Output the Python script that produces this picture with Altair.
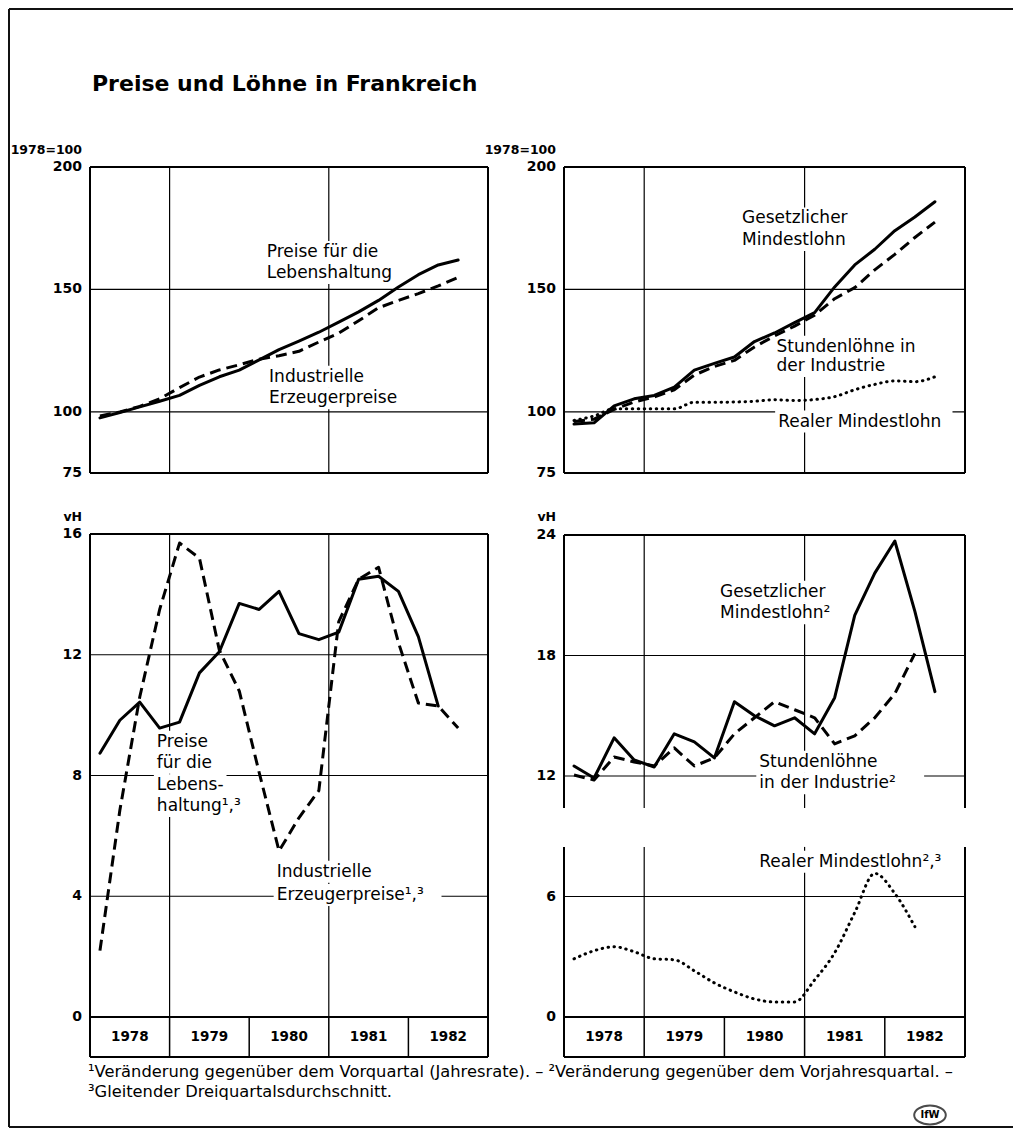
import altair as alt
import pandas as pd

# ---------------- data ----------------
quarters = ["1978 Q1", "1978 Q2", "1978 Q3", "1978 Q4",
            "1979 Q1", "1979 Q2", "1979 Q3", "1979 Q4",
            "1980 Q1", "1980 Q2", "1980 Q3", "1980 Q4",
            "1981 Q1", "1981 Q2", "1981 Q3", "1981 Q4",
            "1982 Q1", "1982 Q2", "1982 Q3"]
years = ["1978", "1979", "1980", "1981", "1982"]

# top left (1978=100)
lebenshaltung_idx = [97.5, 99.7, 102.0, 104.3, 106.7, 110.8, 114.3, 117.0, 121.2, 125.4,
                     128.9, 132.5, 136.6, 140.8, 145.5, 151.0, 156.0, 160.0, 162.0]
erzeuger_idx = [98.3, 99.9, 102.2, 105.3, 109.9, 114.2, 117.1, 119.2, 121.5, 122.9,
                124.7, 128.5, 132.1, 137.2, 142.5, 145.5, 148.3, 151.4, 154.9]
# top right (1978=100)
mindestlohn_idx = [95.0, 95.5, 102.4, 105.3, 106.7, 110.1, 117.0, 119.8, 122.4, 128.7,
                   132.2, 136.4, 140.5, 151.0, 160.0, 166.4, 174.0, 179.6, 185.8]
stundenlohn_idx = [96.0, 97.0, 101.0, 104.0, 106.0, 109.0, 115.0, 118.5, 121.0, 126.5,
                   131.0, 135.0, 139.5, 146.2, 150.7, 158.0, 164.3, 171.2, 177.5]
realer_idx = [96.5, 98.3, 101.2, 101.2, 101.2, 101.2, 103.9, 103.9, 104.0, 104.3,
              104.9, 104.6, 105.0, 106.2, 109.0, 111.2, 112.6, 112.3, 114.3]
# bottom left (vH)
lebenshaltung_vh = [8.74, 9.83, 10.43, 9.57, 9.77, 11.4, 12.1, 13.7, 13.5, 14.1,
                    12.7, 12.5, 12.75, 14.5, 14.6, 14.1, 12.6, 10.3, None]
erzeuger_vh = [2.2, 6.85, 10.6, 13.5, 15.7, 15.2, 12.15, 10.8, 8.1, 5.5,
               6.6, 7.5, 13.1, 14.5, 14.9, 12.4, 10.4, 10.3, 9.57]
# bottom right (vH)
mindestlohn_vh = [12.5, 11.9, 13.9, 12.8, 12.45, 14.1, 13.7, 12.9, 15.7, 15.0,
                  14.5, 14.9, 14.1, 15.9, 20.0, 22.1, 23.7, 20.2, 16.2]
stundenlohn_vh = [12.05, 11.8, 12.95, 12.7, 12.5, 13.4, 12.5, 12.9, 14.1, 14.9,
                  15.7, 15.3, 14.9, 13.6, 14.0, 14.9, 16.1, 18.1, None]
realer_vh = [2.9, 3.3, 3.5, 3.25, 2.9, 2.85, 2.3, 1.7, 1.25, 0.9,
             0.75, 0.75, 1.85, 3.2, 5.2, 7.15, 6.15, 4.5, None]

ticks_index = [75, 100, 150, 200]
grid_index = [100, 150]
ticks_bl = [0, 4, 8, 12, 16]
grid_bl = [4, 8, 12]
ticks_br = [0, 6, 12, 18, 24]
grid_br = [6, 12, 18]
grid_years = [1979, 1981]

FONT = "DejaVu Sans"
NOTE_SIZE = 17
W, H = 1006, 1120


def qt(label):
    y, q = label.split(" Q")
    return int(y) + (int(q) - 0.5) / 4


T = [qt(q) for q in quarters]
Y0, Y1 = 1978, 1983


def scales(xr, ydom, yr):
    X = alt.Scale(domain=[Y0, Y1], range=xr, nice=False, zero=False)
    Y = alt.Scale(domain=ydom, range=yr, nice=False, zero=False)
    return X, Y


def series_layer(vals, X, Y, style):
    df = pd.DataFrame({"t": T, "v": vals}).dropna()
    kw = dict(color="black", strokeWidth=3, strokeJoin="round", strokeCap="round")
    if style == "dash":
        kw.update(strokeDash=[11, 6], strokeCap="butt")
    elif style == "dot":
        kw.update(strokeDash=[0.5, 5.5], strokeCap="round", interpolate="monotone")
    return alt.Chart(df).mark_line(**kw).encode(
        x=alt.X("t:Q", scale=X, axis=None),
        y=alt.Y("v:Q", scale=Y, axis=None),
    )


def rule_layer(segs, X, Y, width):
    df = pd.DataFrame(segs, columns=["x", "x2", "y", "y2"])
    return alt.Chart(df).mark_rule(color="black", strokeWidth=width).encode(
        x=alt.X("x:Q", scale=X, axis=None), x2="x2:Q",
        y=alt.Y("y:Q", scale=Y, axis=None), y2="y2:Q",
    )


def text_layer(rows, X, Y, **kw):
    df = pd.DataFrame(rows, columns=["x", "y", "s"])
    base = dict(font=FONT, color="black")
    base.update(kw)
    return alt.Chart(df).mark_text(**base).encode(
        x=alt.X("x:Q", scale=X, axis=None),
        y=alt.Y("y:Q", scale=Y, axis=None),
        text="s:N",
    )


def label_backgrounds(notes, X, Y, xr, ydom, yr):
    """white boxes behind the annotation texts (they interrupt the grid)."""
    px_x = (xr[1] - xr[0]) / (Y1 - Y0)
    px_y = (yr[0] - yr[1]) / (ydom[1] - ydom[0])
    rows = []
    for x, y, s in notes:
        w = len(s) * 0.56 * NOTE_SIZE
        rows.append((x - 3 / px_x, x + (w + 3) / px_x,
                     y - 11 / px_y, y + 11 / px_y))
    df = pd.DataFrame(rows, columns=["x", "x2", "y", "y2"])
    return alt.Chart(df).mark_rect(color="white").encode(
        x=alt.X("x:Q", scale=X, axis=None), x2="x2:Q",
        y=alt.Y("y:Q", scale=Y, axis=None), y2="y2:Q",
    )


def panel(xr, ydom, yr, lines, yticks, hgrid, unit, unit_v, notes,
          year_box=False, gap=None):
    X, Y = scales(xr, ydom, yr)
    lo, hi = ydom
    base = 0 if year_box else lo
    grid, border = [], []
    for v in hgrid:
        grid.append((Y0, Y1, v, v))

    def vert(x, a, b, target):
        if gap:
            target.append((x, x, a, gap[0]))
            target.append((x, x, gap[1], b))
        else:
            target.append((x, x, a, b))
    for g in grid_years:
        vert(g, base, hi, grid)
    vert(Y0, lo, hi, border)
    vert(Y1, lo, hi, border)
    border.append((Y0, Y1, hi, hi))
    border.append((Y0, Y1, lo, lo))
    layers = [rule_layer(grid, X, Y, 1.2),
              label_backgrounds(notes, X, Y, xr, ydom, yr),
              rule_layer(border, X, Y, 2)]
    if year_box:
        layers.append(rule_layer([(Y0, Y1, 0, 0)], X, Y, 2))
        divs = [(int(y) + 1, int(y) + 1, lo, 0) for y in years[:-1]]
        layers.append(rule_layer(divs, X, Y, 1.5))
        layers.append(text_layer([(int(y) + 0.5, lo / 2, y) for y in years], X, Y,
                                 fontSize=13.5, fontWeight="bold", align="center",
                                 baseline="middle"))
    for vals, style in lines:
        layers.append(series_layer(vals, X, Y, style))
    layers.append(text_layer([(Y0, v, str(v)) for v in yticks], X, Y,
                             fontSize=14, fontWeight="bold", align="right",
                             baseline="middle", dx=-8))
    layers.append(text_layer([(Y0, unit_v, unit)], X, Y, fontSize=12.5,
                             fontWeight="bold", align="right", baseline="middle", dx=-8))
    layers.append(text_layer(notes, X, Y, fontSize=NOTE_SIZE, align="left",
                             baseline="middle"))
    return alt.layer(*layers)


tl = panel([82, 480], [75, 200], [465, 159],
           [(erzeuger_idx, "dash"), (lebenshaltung_idx, "solid")],
           ticks_index, grid_index, "1978=100", 206.9,
           [(1980.22, 165.3, "Preise für die"), (1980.22, 156.7, "Lebenshaltung"),
            (1980.25, 114.3, "Industrielle"), (1980.25, 105.5, "Erzeugerpreise")])

tr = panel([556, 957], [75, 200], [465, 159],
           [(realer_idx, "dot"), (stundenlohn_idx, "dash"), (mindestlohn_idx, "solid")],
           ticks_index, grid_index, "1978=100", 206.9,
           [(1980.22, 179.0, "Gesetzlicher"), (1980.22, 170.2, "Mindestlohn"),
            (1980.65, 126.6, "Stundenlöhne in"), (1980.65, 118.7, "der Industrie"),
            (1980.67, 96.0, "Realer Mindestlohn")])

bl = panel([82, 480], [-1.325, 16], [1049, 526],
           [(erzeuger_vh, "dash"), (lebenshaltung_vh, "solid")],
           ticks_bl, grid_bl, "vH", 16.56,
           [(1978.84, 9.12, "Preise"), (1978.84, 8.42, "für die"),
            (1978.84, 7.68, "Lebens-"), (1978.84, 6.99, "haltung¹,³"),
            (1980.345, 4.81, "Industrielle"), (1980.345, 4.04, "Erzeugerpreise¹,³")],
           year_box=True)

br = panel([556, 957], [-1.99, 24], [1049, 527],
           [(realer_vh, "dot"), (stundenlohn_vh, "dash"), (mindestlohn_vh, "solid")],
           ticks_br, grid_br, "vH", 24.9,
           [(1979.945, 21.18, "Gesetzlicher"), (1979.945, 20.1, "Mindestlohn²"),
            (1980.435, 12.71, "Stundenlöhne"), (1980.435, 11.64, "in der Industrie²"),
            (1980.435, 7.73, "Realer Mindestlohn²,³")],
           year_box=True, gap=(8.47, 10.41))

# ---------------- decorations (pixel positioned) ----------------
frame_top = alt.Chart(pd.DataFrame({"k": [0]})).mark_rule(
    color="#111111", strokeWidth=2, strokeCap="butt").encode(
    x=alt.value(1), x2=alt.value(W - 1), y=alt.value(1), y2=alt.value(1))
frame_left = alt.Chart(pd.DataFrame({"k": [1]})).mark_rule(
    color="#111111", strokeWidth=2, strokeCap="butt").encode(
    x=alt.value(1), x2=alt.value(1), y=alt.value(1), y2=alt.value(H - 1))
frame_bottom = alt.Chart(pd.DataFrame({"k": [2]})).mark_rule(
    color="#111111", strokeWidth=2, strokeCap="butt").encode(
    x=alt.value(1), x2=alt.value(W - 1), y=alt.value(H - 1), y2=alt.value(H - 1))

title = alt.Chart(pd.DataFrame({"s": ["Preise und Löhne in Frankreich"]})).mark_text(
    font=FONT, fontSize=22, fontWeight="bold", align="left", baseline="alphabetic",
    color="black").encode(x=alt.value(84), y=alt.value(83), text="s:N")

foot1 = alt.Chart(pd.DataFrame({"s": [
    "¹Veränderung gegenüber dem Vorquartal (Jahresrate). – ²Veränderung gegenüber dem Vorjahresquartal. –"]})
).mark_text(font=FONT, fontSize=16.3, align="left", baseline="middle", color="black").encode(
    x=alt.value(80), y=alt.value(1064), text="s:N")
foot2 = alt.Chart(pd.DataFrame({"s": ["³Gleitender Dreiquartalsdurchschnitt."]})).mark_text(
    font=FONT, fontSize=16.3, align="left", baseline="middle", color="black").encode(
    x=alt.value(80), y=alt.value(1084), text="s:N")

logo_shape = "M-1,0A1,0.6,0,1,0,1,0A1,0.6,0,1,0,-1,0Z"
logo = alt.Chart(pd.DataFrame({"s": ["IfW"]})).mark_point(
    shape=logo_shape, size=1000, filled=False, color="black", strokeWidth=2).encode(
    x=alt.value(922), y=alt.value(1107))
logo_txt = alt.Chart(pd.DataFrame({"s": ["IfW"]})).mark_text(
    font=FONT, fontSize=10, fontWeight="bold", align="center", baseline="middle",
    color="black").encode(x=alt.value(922), y=alt.value(1107), text="s:N")

chart = alt.layer(
    frame_top, frame_left, frame_bottom, title, foot1, foot2, logo, logo_txt,
    tl, tr, bl, br,
).resolve_scale(x="independent", y="independent").properties(
    width=W, height=H, autosize=alt.AutoSizeParams(type="none"), padding=0,
    background="white",
).configure_view(stroke="transparent", strokeWidth=0)

chart.save("out.html", embed_options={"renderer": "svg", "actions": False})
